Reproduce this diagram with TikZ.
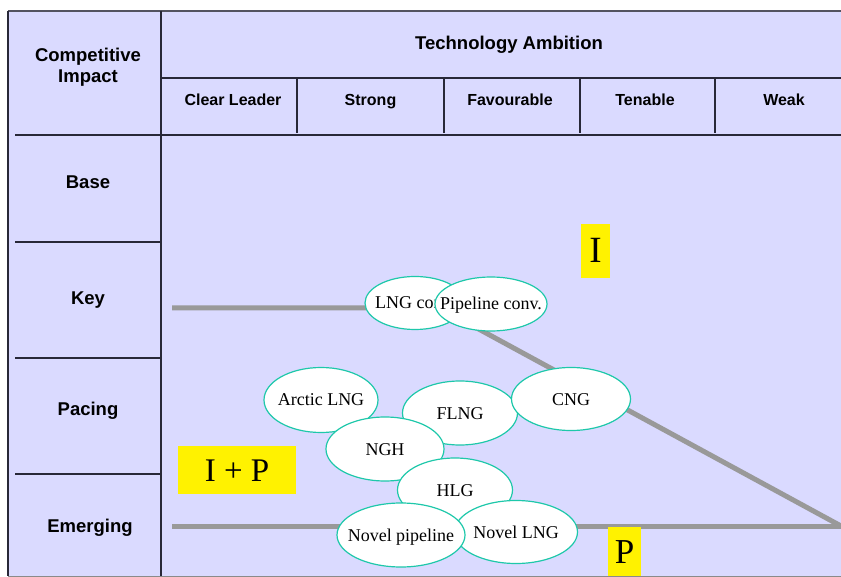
\documentclass[tikz,border=0pt]{standalone}
\usepackage{fontspec}
\setmainfont{Liberation Serif}
\setsansfont{Liberation Sans}
\usetikzlibrary{shapes.geometric}
\definecolor{lav}{RGB}{218,218,255}
\definecolor{techedge}{RGB}{30,200,170}
\definecolor{trendgray}{RGB}{153,153,153}
\definecolor{gridline}{RGB}{40,40,56}
\begin{document}
\begin{tikzpicture}[x=1pt,y=-1pt,
  hdr/.style={font=\sffamily\bfseries\fontsize{18.5}{21}\selectfont, align=center, inner sep=0, anchor=base},
  colhdr/.style={font=\sffamily\bfseries\fontsize{16}{18}\selectfont, inner sep=0, anchor=base},
  rule/.style={draw=gridline, line width=1.6pt},
  trend/.style={draw=trendgray, line width=5pt},
  tech/.style={ellipse, draw=techedge, line width=1.2pt, fill=white, inner sep=0,
    text height=12pt, text depth=0pt, font=\fontsize{18}{18}\selectfont},
  flag/.style={fill=yellow, inner sep=0, text depth=0pt}
]
\useasboundingbox (0,0) rectangle (841,577);

% matrix background
\fill[lav] (8,11) rectangle (841,576);

% grid lines
\draw[gridline!80, line width=1.4pt] (8,11) -- (841,11);
\draw[rule] (8,11) -- (8,576);
\draw[rule] (161,11) -- (161,576);
\draw[rule] (161,78) -- (841,78);
\draw[rule] (15,135) -- (841,135);
\foreach \cx in {297,444,580,715} \draw[rule] (\cx,78) -- (\cx,133);
\foreach \ry in {242,358,474} \draw[rule] (15,\ry) -- (161,\ry);
\draw[trendgray!90!black, line width=1pt] (8,576) -- (841,576);

% header texts (two-line node: base anchor sits on the last line)
\node[hdr] (ci) at (88,82.6) {Competitive\\Impact};
\node[hdr] (ta) at (509,49.5) {Technology Ambition};
\node[colhdr] (c1) at (233,105.7) {Clear Leader};
\node[colhdr] (c2) at (370.5,105.7) {Strong};
\node[colhdr] (c3) at (510,105.7) {Favourable};
\node[colhdr] (c4) at (645,105.7) {Tenable};
\node[colhdr] (c5) at (784,105.7) {Weak};

% row texts
\node[hdr] (r1) at (88,188.6) {Base};
\node[hdr] (r2) at (88,304.6) {Key};
\node[hdr] (r3) at (88,415.6) {Pacing};
\node[hdr] (r4) at (90,532.6) {Emerging};

% trend lines
\coordinate (keyL) at (172,308);
\coordinate (keyBend) at (440,308);
\coordinate (apex) at (841,526);
\coordinate (emL) at (172,526);
\draw[trend] (keyL) -- (keyBend) -- (apex);
\draw[trend] (emL) -- (apex);

% region flags
\node[flag, minimum width=29pt, minimum height=54pt, text height=24pt,
  font=\fontsize{37}{37}\selectfont] (fI) at (595.5,251) {I};
\node[flag, minimum width=118pt, minimum height=48pt, text height=22pt,
  font=\fontsize{33}{33}\selectfont] (fIP) at (237,470) {I + P};
\node[flag, minimum width=33pt, minimum height=49pt, text height=23pt,
  font=\fontsize{35}{35}\selectfont] (fP) at (624.5,551.5) {P};

% technologies
\node[tech, minimum width=100pt, minimum height=53pt] (lngconv) at (415,303) {\makebox[0pt]{LNG conv.}};
\node[tech, minimum width=112pt, minimum height=54pt] (pipeconv) at (491,304) {\makebox[0pt]{Pipeline conv.}};
\node[tech, minimum width=114pt, minimum height=65pt] (arctic) at (321,400) {\makebox[0pt]{Arctic LNG}};
\node[tech, minimum width=115pt, minimum height=64pt] (flng) at (460,413) {\makebox[0pt]{FLNG}};
\node[tech, minimum width=119pt, minimum height=63pt] (cng) at (571,399) {\makebox[0pt]{CNG}};
\node[tech, minimum width=118pt, minimum height=64pt] (ngh) at (385,449) {\makebox[0pt]{NGH}};
\node[tech, minimum width=115pt, minimum height=64pt] (hlg) at (455,490) {\makebox[0pt]{HLG}};
\node[tech, minimum width=123pt, minimum height=63pt] (novlng) at (516,532) {\makebox[0pt]{Novel LNG}};
\node[tech, minimum width=128pt, minimum height=64pt] (novpipe) at (401,535) {\makebox[0pt]{Novel pipeline}};
\end{tikzpicture}
\end{document}
